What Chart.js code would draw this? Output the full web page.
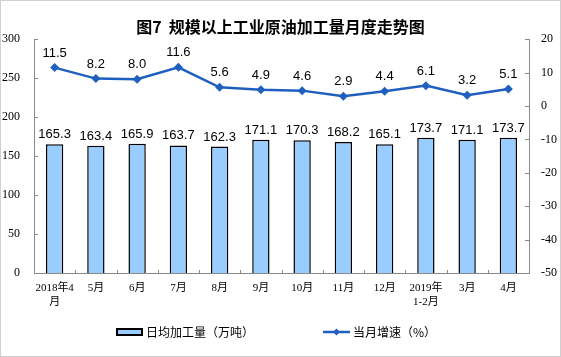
<!DOCTYPE html>
<html>
<head>
<meta charset="utf-8">
<script src="https://cdn.jsdelivr.net/npm/chart.js@4.4.1/dist/chart.umd.min.js"></script>
<style>
html,body{margin:0;padding:0;background:#fff;}
#wrap{position:relative;width:561px;height:357px;}
#c{position:absolute;left:0;top:0;}
#frame{position:absolute;left:0;top:0;width:561px;height:357px;box-sizing:border-box;border:1px solid #d0d0d0;pointer-events:none;}
</style>
</head>
<body>
<div id="wrap"><canvas id="c" width="561" height="357"></canvas><div id="frame"></div></div>
<script>
const titleText = '图7  规模以上工业原油加工量月度走势图';
const months = [['2018年4','月'],'5月','6月','7月','8月','9月','10月','11月','12月',['2019年','1-2月'],'3月','4月'];
const dailyOutput = [165.3,163.4,165.9,163.7,162.3,171.1,170.3,168.2,165.1,173.7,171.1,173.7];
const monthlyGrowth = [11.5,8.2,8.0,11.6,5.6,4.9,4.6,2.9,4.4,6.1,3.2,5.1];
const seriesNames = ['日均加工量（万吨）','当月增速（%）'];
const leftTicks = [0,50,100,150,200,250,300];
const rightTicks = [-50,-40,-30,-20,-10,0,10,20];

const BAR_FILL = '#99CCFF';
const LINE_COLOR = '#1F5FBF';
const AXIS_COLOR = '#898989';

const valueLabels = {
  id: 'valueLabels',
  afterDatasetsDraw(chart){
    const ctx = chart.ctx;
    ctx.save();
    ctx.font = '13px "Liberation Sans", Arial, sans-serif';
    ctx.fillStyle = '#000';
    ctx.textAlign = 'center';
    ctx.textBaseline = 'alphabetic';
    chart.getDatasetMeta(0).data.forEach((el,i)=>{
      ctx.fillText(dailyOutput[i].toFixed(1), el.x, el.y - 6);
    });
    chart.getDatasetMeta(1).data.forEach((el,i)=>{
      ctx.fillText(monthlyGrowth[i].toFixed(1), el.x, el.y - 11);
    });
    ctx.restore();
  }
};

const innerTicks = {
  id: 'innerTicks',
  afterDraw(chart){
    const ctx = chart.ctx, a = chart.chartArea;
    const sy = chart.scales.y, sy1 = chart.scales.y1, sx = chart.scales.x;
    ctx.save();
    ctx.strokeStyle = AXIS_COLOR; ctx.lineWidth = 1;
    ctx.beginPath();
    leftTicks.forEach(v=>{ const p = Math.round(sy.getPixelForValue(v))+0.5; ctx.moveTo(a.left, p); ctx.lineTo(a.left+4, p); });
    rightTicks.forEach(v=>{ const p = Math.round(sy1.getPixelForValue(v))+0.5; ctx.moveTo(a.right-4, p); ctx.lineTo(a.right, p); });
    for(let i=1;i<months.length;i++){
      const p = Math.round(sx.getPixelForValue(i-0.5))+0.5;
      ctx.moveTo(p, a.bottom); ctx.lineTo(p, a.bottom-3);
    }
    ctx.stroke();
    ctx.restore();
  }
};

const bottomLegend = {
  id: 'bottomLegend',
  afterDraw(chart){
    const ctx = chart.ctx;
    const cy = 332;
    ctx.save();
    // bar series key
    ctx.fillStyle = BAR_FILL; ctx.fillRect(117, cy-3, 25, 6);
    ctx.strokeStyle = '#000'; ctx.lineWidth = 2; ctx.strokeRect(117, cy-3, 25, 6);
    // line series key
    ctx.strokeStyle = LINE_COLOR; ctx.lineWidth = 2.5;
    ctx.beginPath(); ctx.moveTo(323, cy); ctx.lineTo(350, cy); ctx.stroke();
    ctx.fillStyle = LINE_COLOR;
    ctx.beginPath(); ctx.moveTo(336.5, cy-3.5); ctx.lineTo(340, cy); ctx.lineTo(336.5, cy+3.5); ctx.lineTo(333, cy); ctx.closePath(); ctx.fill();
    ctx.fillStyle = '#000';
    ctx.font = '12px "Noto Sans CJK SC", sans-serif';
    ctx.textAlign = 'left'; ctx.textBaseline = 'middle';
    ctx.fillText(seriesNames[0], 146, cy);
    ctx.fillText(seriesNames[1], 353, cy);
    ctx.restore();
  }
};

new Chart(document.getElementById('c'), {
  data: {
    labels: months,
    datasets: [
      {
        type: 'bar', label: seriesNames[0], data: dailyOutput, yAxisID: 'y',
        backgroundColor: BAR_FILL, borderColor: '#000', borderWidth: 1.5,
        barPercentage: 0.42, categoryPercentage: 1.0, order: 2
      },
      {
        type: 'line', label: seriesNames[1], data: monthlyGrowth, yAxisID: 'y1',
        borderColor: LINE_COLOR, backgroundColor: LINE_COLOR, borderWidth: 2.5,
        pointStyle: 'rectRot', pointRadius: 4.5, pointBorderWidth: 0, tension: 0, order: 1
      }
    ]
  },
  options: {
    responsive: false, animation: false, devicePixelRatio: 1,
    layout: { padding: { left: 0, right: 0, top: 0, bottom: 44 } },
    plugins: {
      title: {
        display: true, text: titleText, color: '#000',
        font: { family: '"Noto Sans CJK SC", sans-serif', size: 16, weight: 'bold' },
        padding: { top: 17, bottom: 3 }
      },
      legend: { display: false },
      tooltip: { enabled: false }
    },
    scales: {
      x: {
        offset: true,
        grid: { display: false, drawTicks: false },
        border: { display: true, color: AXIS_COLOR, width: 1 },
        ticks: {
          color: '#000', padding: 8, maxRotation: 0, autoSkip: false,
          font: { family: '"Liberation Serif", "Noto Sans CJK SC", serif', size: 11, lineHeight: 1.25 }
        },
        afterFit(s){ s.height = 40; }
      },
      y: {
        position: 'left', min: 0, max: 300,
        grid: { display: false, drawTicks: false },
        border: { display: true, color: AXIS_COLOR, width: 1 },
        ticks: { stepSize: 50, color: '#000', padding: 14,
          font: { family: '"Liberation Serif", serif', size: 12 } },
        afterFit(s){ s.width = 34; }
      },
      y1: {
        position: 'right', min: -50, max: 20,
        grid: { display: false, drawTicks: false },
        border: { display: true, color: AXIS_COLOR, width: 1 },
        ticks: { stepSize: 10, color: '#000', padding: 12,
          font: { family: '"Liberation Serif", serif', size: 12 } },
        afterFit(s){ s.width = 32; }
      }
    }
  },
  plugins: [valueLabels, innerTicks, bottomLegend]
});
</script>
</body>
</html>
